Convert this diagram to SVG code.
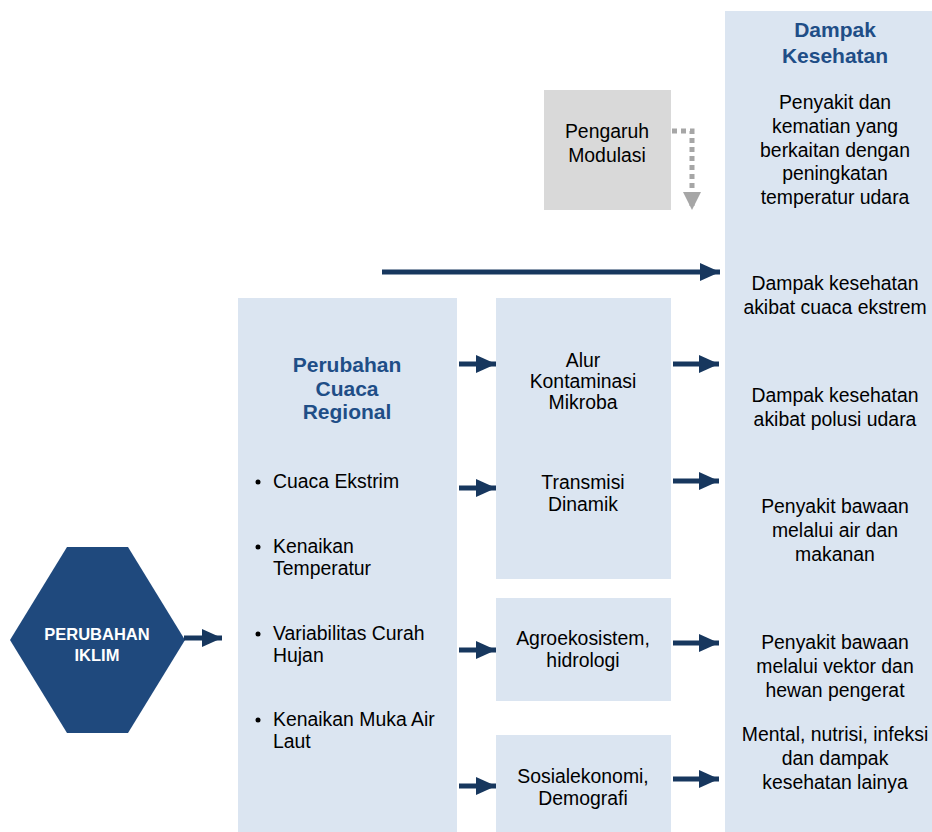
<svg xmlns="http://www.w3.org/2000/svg" width="932" height="832" viewBox="0 0 932 832">
<style>
.box{fill:#dbe5f1}
.gray{fill:#d9d9d9}
.t{font-family:"Liberation Sans",Arial,sans-serif;font-size:19.4px;fill:#000;text-anchor:middle}
.tl{font-family:"Liberation Sans",Arial,sans-serif;font-size:19.4px;fill:#000}
.h{font-family:"Liberation Sans",Arial,sans-serif;font-size:21px;font-weight:bold;fill:#1f4e87;text-anchor:middle}
.hx{font-family:"Liberation Sans",Arial,sans-serif;font-size:16.5px;font-weight:bold;fill:#fff;text-anchor:middle}
.arr{stroke:#17375e;stroke-width:5;fill:none}
.dot{stroke:#a6a6a6;stroke-width:5;fill:none;stroke-dasharray:5 4}
</style>
<defs>
<marker id="ah" markerUnits="userSpaceOnUse" markerWidth="20" markerHeight="18" refX="20" refY="9" orient="auto">
<path d="M0,0 L20,9 L0,18 z" fill="#17375e"/>
</marker>
<marker id="ahg" markerUnits="userSpaceOnUse" markerWidth="18" markerHeight="18" refX="18" refY="9" orient="auto">
<path d="M0,0 L18,9 L0,18 z" fill="#a6a6a6"/>
</marker>
</defs>
<rect width="932" height="832" fill="#fff"/>

<g id="dampak-kesehatan">
<rect class="box" x="725" y="11" width="207" height="821"/>
<text class="h" x="835" y="37">Dampak</text>
<text class="h" x="835" y="63">Kesehatan</text>
<text class="t" x="835" y="109">Penyakit dan</text>
<text class="t" x="835" y="133">kematian yang</text>
<text class="t" x="835" y="157">berkaitan dengan</text>
<text class="t" x="835" y="180">peningkatan</text>
<text class="t" x="835" y="204">temperatur udara</text>
<text class="t" x="835" y="290">Dampak kesehatan</text>
<text class="t" x="835" y="314">akibat cuaca ekstrem</text>
<text class="t" x="835" y="402">Dampak kesehatan</text>
<text class="t" x="835" y="426">akibat polusi udara</text>
<text class="t" x="835" y="513">Penyakit bawaan</text>
<text class="t" x="835" y="537">melalui air dan</text>
<text class="t" x="835" y="561">makanan</text>
<text class="t" x="835" y="649">Penyakit bawaan</text>
<text class="t" x="835" y="673">melalui vektor dan</text>
<text class="t" x="835" y="697">hewan pengerat</text>
<text class="t" x="835" y="741">Mental, nutrisi, infeksi</text>
<text class="t" x="835" y="765">dan dampak</text>
<text class="t" x="835" y="789">kesehatan lainya</text>
</g>

<g id="pengaruh-modulasi">
<rect class="gray" x="544" y="90" width="127" height="120"/>
<text class="t" x="607" y="138">Pengaruh</text>
<text class="t" x="607" y="162">Modulasi</text>
</g>

<g id="perubahan-cuaca-regional">
<rect class="box" x="238" y="298" width="219" height="534"/>
<text class="h" x="347" y="372">Perubahan</text>
<text class="h" x="347" y="396">Cuaca</text>
<text class="h" x="347" y="419">Regional</text>
<circle cx="258" cy="482" r="2.5" fill="#000"/>
<text class="tl" x="273" y="488">Cuaca Ekstrim</text>
<circle cx="258" cy="547" r="2.5" fill="#000"/>
<text class="tl" x="273" y="553">Kenaikan</text>
<text class="tl" x="273" y="575">Temperatur</text>
<circle cx="258" cy="634" r="2.5" fill="#000"/>
<text class="tl" x="273" y="640">Variabilitas Curah</text>
<text class="tl" x="273" y="662">Hujan</text>
<circle cx="258" cy="720" r="2.5" fill="#000"/>
<text class="tl" x="273" y="726">Kenaikan Muka Air</text>
<text class="tl" x="273" y="748">Laut</text>
</g>

<g id="alur-transmisi">
<rect class="box" x="496" y="298" width="175" height="281"/>
<text class="t" x="583" y="367">Alur</text>
<text class="t" x="583" y="388">Kontaminasi</text>
<text class="t" x="583" y="409">Mikroba</text>
<text class="t" x="583" y="489">Transmisi</text>
<text class="t" x="583" y="511">Dinamik</text>
</g>

<g id="agroekosistem">
<rect class="box" x="496" y="598" width="175" height="103"/>
<text class="t" x="583" y="645">Agroekosistem,</text>
<text class="t" x="583" y="667">hidrologi</text>
</g>

<g id="sosialekonomi">
<rect class="box" x="496" y="735" width="175" height="97"/>
<text class="t" x="583" y="783">Sosialekonomi,</text>
<text class="t" x="583" y="805">Demografi</text>
</g>

<g id="perubahan-iklim">
<polygon points="10,640 67,547 128,547 185,640 128,733 67,733" fill="#1f497d"/>
<text class="hx" x="97" y="640">PERUBAHAN</text>
<text class="hx" x="97" y="661">IKLIM</text>
</g>

<g id="connectors">
<line class="arr" x1="184" y1="638" x2="222" y2="638" marker-end="url(#ah)"/>
<line class="arr" x1="382" y1="272" x2="720" y2="272" marker-end="url(#ah)"/>
<line class="arr" x1="459" y1="364" x2="496" y2="364" marker-end="url(#ah)"/>
<line class="arr" x1="673" y1="364" x2="719" y2="364" marker-end="url(#ah)"/>
<line class="arr" x1="459" y1="488" x2="496" y2="488" marker-end="url(#ah)"/>
<line class="arr" x1="673" y1="481" x2="719" y2="481" marker-end="url(#ah)"/>
<line class="arr" x1="459" y1="650" x2="496" y2="650" marker-end="url(#ah)"/>
<line class="arr" x1="673" y1="643" x2="719" y2="643" marker-end="url(#ah)"/>
<line class="arr" x1="459" y1="786" x2="496" y2="786" marker-end="url(#ah)"/>
<line class="arr" x1="673" y1="779" x2="719" y2="779" marker-end="url(#ah)"/>
<path class="dot" d="M672,131 H692 V210" marker-end="url(#ahg)"/>
</g>
</svg>
